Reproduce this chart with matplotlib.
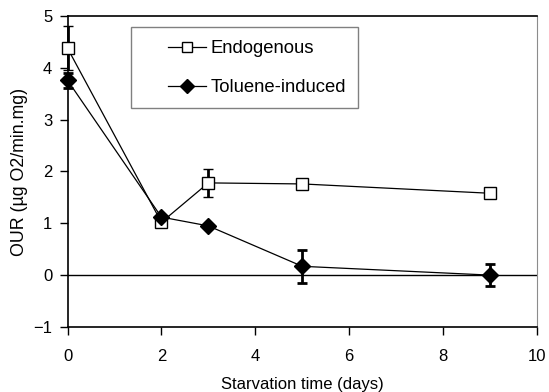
import numpy as np
import matplotlib.pyplot as plt
from matplotlib.patches import Rectangle

plt.rcParams['font.family'] = ['Liberation Sans', 'DejaVu Sans']

days = [0, 2, 3, 5, 9]
endo = [4.38, 1.02, 1.78, 1.76, 1.58]
endo_err = [0.42, 0.0, 0.27, 0.0, 0.0]
tol = [3.76, 1.12, 0.95, 0.17, 0.0]
tol_err = [0.15, 0.0, 0.0, 0.32, 0.21]

fig = plt.figure(figsize=(5.49, 3.92), dpi=100)
ax = fig.add_axes([0.123, 0.166, 0.855, 0.793])

ax.axhline(0, color='black', lw=1, zorder=1)

e1 = ax.errorbar(days, endo, yerr=endo_err, color='black', lw=0.9, elinewidth=2,
                 capsize=3.3, capthick=2, marker='s', ms=8, mfc='white', mec='black',
                 mew=1, label='Endogenous', zorder=3)
e2 = ax.errorbar(days, tol, yerr=tol_err, color='black', lw=0.9, elinewidth=2,
                 capsize=3.3, capthick=2, marker='D', ms=8, mfc='black', mec='black',
                 label='Toluene-induced', zorder=4)
for e in (e1, e2):
    for art in e.get_children():
        art.set_clip_on(False)

ax.set_xlim(0, 10)
ax.set_ylim(-1, 5)
ax.set_xticks(np.arange(0, 11, 2))
ax.set_yticks(np.arange(-1, 6, 1))
ax.tick_params(labelsize=12, direction='out', length=6, width=1, pad=5)
ax.tick_params(axis='x', pad=10)
ax.spines['right'].set_color('0.55')
for s in ['left', 'top', 'bottom']:
    ax.spines[s].set_linewidth(1.2)

ax.set_xlabel('Starvation time (days)', fontsize=12, labelpad=9)
ax.set_ylabel('OUR (\u00b5g O2/min.mg)', fontsize=12.8, labelpad=4)

# legend box drawn separately
ax.add_patch(Rectangle((0.136, 0.704), 0.483, 0.261, transform=ax.transAxes,
                       facecolor='white', edgecolor='0.5', lw=1, zorder=5))
handles, labels = ax.get_legend_handles_labels()
handles = [h[0] for h in handles]
leg = ax.legend(handles, labels, loc='upper left', bbox_to_anchor=(0.214, 0.922),
                fontsize=13.3, frameon=False, borderpad=0, labelspacing=1.2,
                handlelength=2.05, handletextpad=0.25, borderaxespad=0,
                markerscale=0.9)
leg.set_zorder(6)

fig.savefig('out.png', dpi=100)
